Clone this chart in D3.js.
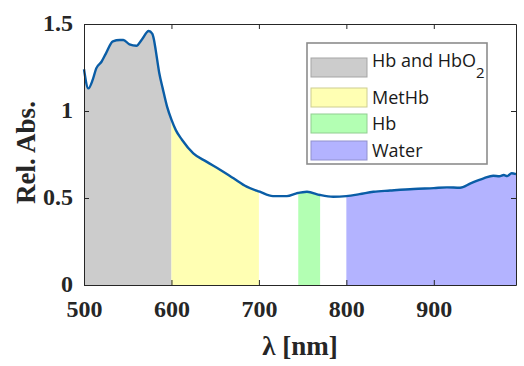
<!DOCTYPE html>
<html>
<head>
<meta charset="utf-8">
<script src="https://cdn.jsdelivr.net/npm/d3@7"></script>
<style>
  body { margin: 0; background: #fff; }
  .tick text { font-family: "Liberation Serif", serif; font-weight: bold; }
</style>
</head>
<body>
<div class="absChart"></div>
<script>
// wavelength samples (nm) and relative absorbance
var wavelengths = [500, 505, 510, 514, 520, 525, 533, 541, 545, 552, 560, 566, 574, 578, 580, 582, 586, 590, 595,
    600, 605, 612, 625, 640, 656, 671, 686, 701, 716, 732, 743, 755, 770, 785, 800,
    815, 831, 850, 877, 900, 915, 930, 942, 957, 968, 975, 980, 984, 989, 994];
var absorbance = [1.24, 1.13, 1.18, 1.245, 1.283, 1.33, 1.40, 1.408, 1.408, 1.383, 1.375, 1.41, 1.46, 1.445, 1.41, 1.35, 1.22, 1.13, 1.025,
    0.95, 0.89, 0.835, 0.757, 0.709, 0.661, 0.613, 0.565, 0.536, 0.511, 0.511, 0.527, 0.536, 0.517, 0.507, 0.511,
    0.522, 0.536, 0.543, 0.552, 0.557, 0.561, 0.559, 0.584, 0.613, 0.628, 0.625, 0.632, 0.626, 0.642, 0.637];

// spectral bands shown as shaded regions
var bandNames = ["Hb and HbO2", "MetHb", "Hb", "Water"];
var bandStart = [500, 600, 745, 800];
var bandEnd = [600, 700, 770, 994];
var bandColors = ["#cccccc", "#ffffb3", "#b3ffb3", "#b3b3ff"];

var xTicks = [500, 600, 700, 800, 900];
var yTicks = [0, 0.5, 1, 1.5];

document.addEventListener('DOMContentLoaded', function() {
    absChart();
})

function absChart(){

    var margin = {top: 24, right: 8, bottom: 81, left: 84},
        width = 524 - margin.left - margin.right,
        height = 366 - margin.top - margin.bottom;

    var svg = d3.select(".absChart")
        .append("svg")
            .attr("width", 524)
            .attr("height", 366)
        .append("g")
            .attr("transform", "translate(" + margin.left + "," + margin.top + ")");

    var data = wavelengths.map(function(w, i) { return {w: w, v: absorbance[i]}; });

    var x = d3.scaleLinear().domain([500, 994]).range([0, width]);
    var y = d3.scaleLinear().domain([0, 1.5]).range([height, 0]);

    var area = d3.area()
        .curve(d3.curveMonotoneX)
        .x(function(d) { return x(d.w); })
        .y0(height)
        .y1(function(d) { return y(d.v); });

    // clip the area under the curve to each band
    bandNames.forEach(function(name, i) {
        svg.append("clipPath")
            .attr("id", "band" + i)
          .append("rect")
            .attr("x", x(bandStart[i]))
            .attr("y", 0)
            .attr("width", x(bandEnd[i]) - x(bandStart[i]))
            .attr("height", height);
        svg.append("path")
            .attr("clip-path", "url(#band" + i + ")")
            .attr("fill", bandColors[i])
            .attr("d", area(data));
    });

    // the spectrum
    var line = d3.line()
        .curve(d3.curveMonotoneX)
        .x(function(d) { return x(d.w); })
        .y(function(d) { return y(d.v); });
    svg.append("path")
        .attr("fill", "none")
        .attr("stroke", "#0a5da6")
        .attr("stroke-width", 2.4)
        .attr("d", line(data));

    // axes, matlab style box with inward ticks
    var xAxis = svg.append("g")
        .attr("transform", "translate(0," + height + ")")
        .call(d3.axisBottom(x).tickValues(xTicks).tickSizeInner(-5).tickSizeOuter(0));
    var yAxis = svg.append("g")
        .call(d3.axisLeft(y).tickValues(yTicks).tickSizeInner(-5).tickSizeOuter(0)
            .tickFormat(function(d) { return d; }));
    svg.append("g")
        .call(d3.axisTop(x).tickValues(xTicks).tickSizeInner(-5).tickSizeOuter(0).tickFormat(""));
    svg.append("g")
        .attr("transform", "translate(" + width + ",0)")
        .call(d3.axisRight(y).tickValues(yTicks).tickSizeInner(-5).tickSizeOuter(0).tickFormat(""));

    svg.selectAll(".domain").attr("stroke", "#262626");
    svg.selectAll(".tick line").attr("stroke", "#262626");
    svg.selectAll(".tick text").attr("font-size", 24).attr("fill", "#262626");
    xAxis.selectAll(".tick text").attr("y", 32).attr("dy", 0);
    yAxis.selectAll(".tick text").attr("x", -11).attr("dy", "0.28em");

    // axis labels
    svg.append("text")
        .attr("x", width / 2)
        .attr("y", height + 70)
        .attr("text-anchor", "middle")
        .attr("font-family", "Liberation Serif, serif")
        .attr("font-weight", "bold")
        .attr("font-size", 27)
        .attr("fill", "#262626")
        .text("λ [nm]");
    svg.append("text")
        .attr("transform", "translate(-49," + (height / 2 - 2) + ") rotate(-90)")
        .attr("text-anchor", "middle")
        .attr("font-family", "Liberation Serif, serif")
        .attr("font-weight", "bold")
        .attr("font-size", 27)
        .attr("fill", "#262626")
        .text("Rel. Abs.");

    // legend
    var legend = svg.append("g")
        .attr("transform", "translate(" + (307 - margin.left) + "," + (43 - margin.top) + ")");
    legend.append("rect")
        .attr("width", 180)
        .attr("height", 121)
        .attr("fill", "#fff")
        .attr("stroke", "#8c8c8c")
        .attr("stroke-width", 1.6);
    var rowTop = [15, 45, 71, 98];
    bandNames.forEach(function(name, i) {
        legend.append("rect")
            .attr("x", 4)
            .attr("y", rowTop[i])
            .attr("width", 56)
            .attr("height", 19)
            .attr("fill", bandColors[i])
            .attr("stroke", d3.color(bandColors[i]).darker(0.6))
            .attr("stroke-width", 1);
        var t = legend.append("text")
            .attr("x", 65)
            .attr("y", rowTop[i] + (i == 0 ? 9 : 16))
            .attr("font-family", "Open Sans, sans-serif")
            .attr("font-size", 18)
            .attr("fill", "#1a1a1a");
        if (name.slice(-1) == "2") {
            t.append("tspan").text(name.slice(0, -1));
            t.append("tspan").attr("dy", 11).attr("font-size", 15).text("2");
        } else {
            t.text(name);
        }
    });
}
</script>
</body>
</html>
